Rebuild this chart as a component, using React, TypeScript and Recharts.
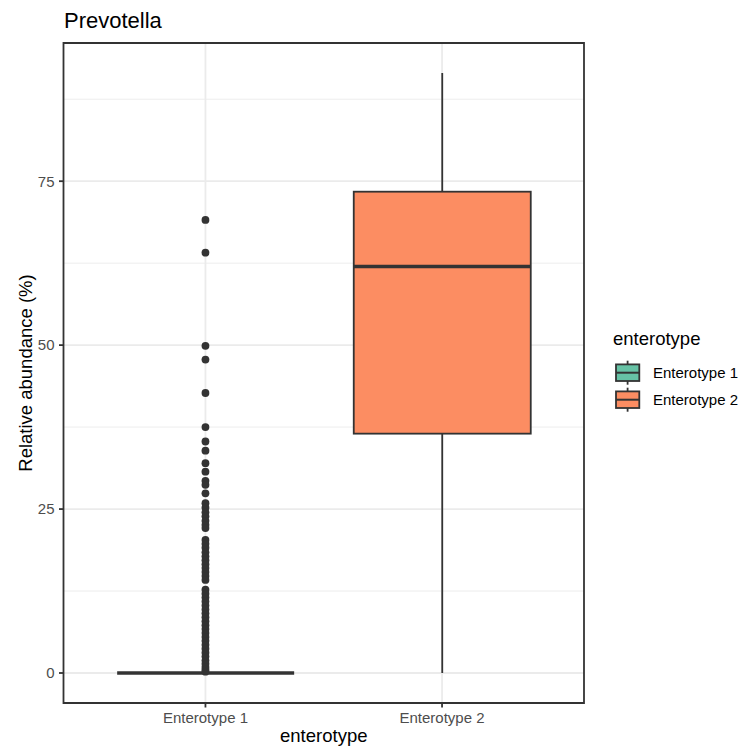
import {
  ComposedChart,
  XAxis,
  YAxis,
  CartesianGrid,
  Bar,
  Scatter,
  ReferenceArea,
} from "recharts";

const categories = ["Enterotype 1", "Enterotype 2"];
const whiskerLow = [0, 0];
const lowerQuartile = [0, 36.5];
const medians = [0, 62.0];
const upperQuartile = [0, 73.4];
const whiskerHigh = [0, 91.5];
const fills = ["#66C2A5", "#FC8D62"];

// outliers of Enterotype 1 (Enterotype 2 has none)
const outliers1 = [
  69.1, 64.1, 49.9, 47.8, 42.7, 37.5, 35.3, 33.9, 32.0, 30.7, 29.3, 28.7, 27.4,
  25.9, 25.2, 24.5, 23.9, 23.2, 22.6, 22.1, 20.3, 19.7, 19.1, 18.4, 17.8, 17.2,
  16.6, 16.0, 15.4, 14.8, 14.2, 12.7, 12.1, 11.5, 10.9, 10.3, 9.7, 9.1, 8.5,
  7.9, 7.3, 6.7, 6.1, 5.5, 4.9, 4.3, 3.7, 3.1, 2.5, 1.9, 1.4, 0.9, 0.5, 0.2,
];

const yTicks = [0, 25, 50, 75];
const yMinor = [12.5, 37.5, 62.5, 87.5];

const FONT = "'Liberation Sans', Arial, sans-serif";
const INK = "#333333";

const boxes = categories.map((name, i) => ({
  x: i + 1,
  name,
  lo: whiskerLow[i],
  q1: lowerQuartile[i],
  med: medians[i],
  q3: upperQuartile[i],
  hi: whiskerHigh[i],
  fill: fills[i],
  range: [whiskerLow[i], whiskerHigh[i]],
}));

const points = outliers1.map((v) => ({ x: 1, value: v }));

function BoxShape(props: any) {
  const { x, y, width, height, payload } = props;
  const top = Math.min(y, y + height);
  const bottom = Math.max(y, y + height);
  const span = payload.hi - payload.lo;
  const py = (v: number) =>
    span > 0 ? top + ((payload.hi - v) / span) * (bottom - top) : top;
  const cx = x + width / 2;
  return (
    <g>
      <line x1={cx} x2={cx} y1={py(payload.hi)} y2={py(payload.q3)} stroke={INK} strokeWidth={1.8} />
      <line x1={cx} x2={cx} y1={py(payload.q1)} y2={py(payload.lo)} stroke={INK} strokeWidth={1.8} />
      <rect
        x={x}
        y={py(payload.q3)}
        width={width}
        height={py(payload.q1) - py(payload.q3)}
        fill={payload.fill}
        stroke={INK}
        strokeWidth={1.8}
      />
      <line x1={x} x2={x + width} y1={py(payload.med)} y2={py(payload.med)} stroke={INK} strokeWidth={3.6} />
    </g>
  );
}

const yTitle = (props: any) => {
  const vb = props.viewBox || { x: 0, y: 43, width: 63.5, height: 660 };
  const bx = vb.x + 32;
  const cy = vb.y + vb.height / 2;
  return (
    <text
      x={bx}
      y={cy}
      transform={`rotate(-90 ${bx} ${cy})`}
      textAnchor="middle"
      fontSize={18.5}
      fontFamily={FONT}
      fill="#000"
    >
      Relative abundance (%)
    </text>
  );
};

const xTitle = (props: any) => {
  const vb = props.viewBox || { x: 63.5, y: 703, width: 520.5, height: 48 };
  return (
    <text
      x={vb.x + vb.width / 2}
      y={vb.y + 39}
      textAnchor="middle"
      fontSize={18.5}
      fontFamily={FONT}
      fill="#000"
    >
      enterotype
    </text>
  );
};

function LegendOverlay() {
  const rows = [372.7, 399.7];
  return (
    <svg
      width={744}
      height={751}
      style={{ position: "absolute", left: 0, top: 0, pointerEvents: "none" }}
    >
      <text x={64} y={28.3} fontSize={22} fontFamily={FONT} fill="#000">
        Prevotella
      </text>
      <text x={613} y={345} fontSize={18.5} fontFamily={FONT} fill="#000">
        enterotype
      </text>
      {categories.map((name, i) => {
        const cy = rows[i];
        return (
          <g key={name}>
            <line x1={627.6} x2={627.6} y1={cy - 12} y2={cy + 12} stroke={INK} strokeWidth={1.8} />
            <rect x={616} y={cy - 8.3} width={23.3} height={16.6} fill={fills[i]} stroke={INK} strokeWidth={1.8} />
            <line x1={616} x2={639.3} y1={cy} y2={cy} stroke={INK} strokeWidth={2} />
            <text x={653} y={cy + 5.4} fontSize={15} fontFamily={FONT} fill="#000">
              {name}
            </text>
          </g>
        );
      })}
    </svg>
  );
}

export default function App() {
  return (
    <div
      style={{
        position: "absolute",
        left: 0,
        top: 0,
        width: 744,
        height: 751,
        background: "#fff",
        fontFamily: FONT,
      }}
    >
      <ComposedChart
        width={744}
        height={751}
        data={boxes}
        margin={{ top: 43, right: 160, bottom: 0, left: 0 }}
      >
        <CartesianGrid
          horizontalValues={yMinor}
          vertical={false}
          stroke="#EBEBEB"
          strokeWidth={0.9}
          strokeDasharray=""
        />
        <CartesianGrid
          horizontalValues={yTicks}
          verticalValues={[1, 2]}
          stroke="#EBEBEB"
          strokeWidth={1.8}
        />
        <XAxis
          type="number"
          dataKey="x"
          domain={[0.4, 2.6]}
          ticks={[1, 2]}
          allowDataOverflow
          tickFormatter={(v: number) => categories[v - 1]}
          height={48}
          axisLine={false}
          tickSize={4.5}
          tickMargin={5.2}
          tickLine={{ stroke: INK, strokeWidth: 1.8 }}
          tick={{ fill: "#4D4D4D", fontSize: 15, fontFamily: FONT }}
          label={xTitle}
        />
        <YAxis
          type="number"
          dataKey="value"
          domain={[-4.575, 96.075]}
          ticks={yTicks}
          allowDataOverflow
          width={63.5}
          axisLine={false}
          tickSize={4.5}
          tickMargin={4.5}
          tickLine={{ stroke: INK, strokeWidth: 1.8 }}
          tick={{ fill: "#4D4D4D", fontSize: 15, fontFamily: FONT }}
          label={yTitle}
        />
        <Bar
          dataKey="range"
          barSize={177}
          shape={BoxShape}
          isAnimationActive={false}
        />
        <Scatter
          data={points}
          dataKey="value"
          isAnimationActive={false}
          shape={(p: any) => <circle cx={p.cx} cy={p.cy} r={3.9} fill={INK} />}
        />
        <ReferenceArea
          x1={0.4}
          x2={2.6}
          y1={-4.575}
          y2={96.075}
          fill="none"
          stroke={INK}
          strokeWidth={1.8}
          fillOpacity={0}
        />
      </ComposedChart>
      <LegendOverlay />
    </div>
  );
}
